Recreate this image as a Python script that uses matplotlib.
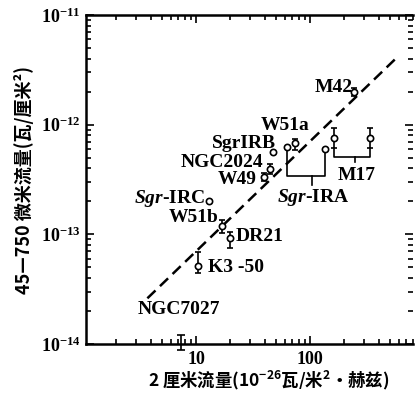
import matplotlib
matplotlib.use("Agg")
import matplotlib.pyplot as plt
from matplotlib.ticker import FixedLocator, FixedFormatter, LogLocator, NullFormatter

plt.rcParams['mathtext.fontset'] = 'custom'
plt.rcParams['mathtext.rm'] = 'Liberation Serif:bold'
plt.rcParams['mathtext.it'] = 'Liberation Serif:italic:bold'
plt.rcParams['mathtext.bf'] = 'Liberation Serif:bold'
plt.rcParams['mathtext.default'] = 'regular'

# ---- data ----
# sources with error bars
err_names = ["M42", "M17", "M17", "W51a", "NGC2024", "W49", "W51b", "DR21", "K3-50"]
err_x = [244, 162, 337, 74.5, 44.6, 39.7, 16.9, 19.7, 10.5]
err_y = [1.97e-12, 7.5e-13, 7.5e-13, 6.76e-13, 3.92e-13, 3.31e-13, 1.19e-13, 9.2e-14, 5.15e-14]
err_lo = [1.83e-12, 6.14e-13, 6.14e-13, 5.88e-13, 3.56e-13, 3.07e-13, 1.02e-13, 7.47e-14, 4.42e-14]
err_hi = [2.16e-12, 9.33e-13, 9.33e-13, 7.36e-13, 4.38e-13, 3.63e-13, 1.35e-13, 1.04e-13, 6.87e-14]

# sources without error bars
plain_names = ["Sgr-IRA", "Sgr-IRA", "SgrIRB", "Sgr-IRC"]
plain_x = [62.5, 135, 47.1, 13.1]
plain_y = [6.22e-13, 5.97e-13, 5.68e-13, 2.01e-13]

# NGC7027: error bar only
ngc7027_x = [7.4]
ngc7027_y = [1.04e-14]
ngc7027_lo = [0.88e-14]
ngc7027_hi = [1.21e-14]

# fitted dashed line
line_x = [3.74, 569]
line_y = [2.61e-14, 4.03e-12]

# bracket levels
m17_bracket_y = 5.08e-13
m17_tick = (250, 4.57e-13)
sgra_bracket_y = 3.40e-13
sgra_tick = (104, 2.82e-13)

xticks = [10, 100]
xticklabels = ["10", "100"]
yticks = [1e-14, 1e-13, 1e-12, 1e-11]
yticklabels = [r"10$^{-14}$", r"10$^{-13}$", r"10$^{-12}$", r"10$^{-11}$"]

fig = plt.figure(figsize=(4.15, 3.93), dpi=100)
ax = fig.add_axes([0.207, 0.1247, 0.788, 0.8371])
ax.set_xscale('log')
ax.set_yscale('log')
ax.set_xlim(1.08, 800)
ax.set_ylim(1e-14, 1e-11)

# dashed line
ax.plot(line_x, line_y, color='black', lw=1.8, ls=(0, (4.5, 2.5)))

# error bars
lo_e = [y - l for y, l in zip(err_y, err_lo)]
hi_e = [h - y for y, h in zip(err_y, err_hi)]
ax.errorbar(err_x, err_y, yerr=[lo_e, hi_e], fmt='o', ms=4.5, mfc='white',
            mec='black', mew=1.2, ecolor='black', elinewidth=1.2, capsize=2.5,
            capthick=1.2, zorder=3)
ax.plot(plain_x, plain_y, 'o', ms=4.5, mfc='white', mec='black', mew=1.2, zorder=3)
n_lo = [ngc7027_y[0] - ngc7027_lo[0]]
n_hi = [ngc7027_hi[0] - ngc7027_y[0]]
ax.errorbar(ngc7027_x, ngc7027_y, yerr=[n_lo, n_hi], fmt='none', ecolor='black',
            elinewidth=1.2, capsize=3, capthick=1.2, clip_on=False, zorder=3)

# brackets
kw = dict(color='black', lw=1.2)
ax.plot([err_x[1], err_x[1], err_x[2], err_x[2]],
        [err_lo[1], m17_bracket_y, m17_bracket_y, err_lo[2]], **kw)
ax.plot([m17_tick[0], m17_tick[0]], [m17_bracket_y, m17_tick[1]], **kw)
ax.plot([plain_x[0], plain_x[0], plain_x[1], plain_x[1]],
        [plain_y[0] * 0.93, sgra_bracket_y, sgra_bracket_y, plain_y[1] * 0.93], **kw)
ax.plot([sgra_tick[0], sgra_tick[0]], [sgra_bracket_y, sgra_tick[1]], **kw)

# labels
tf = dict(fontsize=14, family='Liberation Serif', fontweight='bold',
          va='center', color='black')
ax.text(235.6, 2.16e-12, "M42", ha='right', **tf)
ax.text(60.1, 9.93e-13, "W51a", ha='center', **tf)
ax.text(26.1, 6.8e-13, "SgrIRB", ha='center', **tf)
ax.text(39.2, 4.48e-13, "NGC2024", ha='right', **tf)
ax.text(34.0, 3.13e-13, "W49", ha='right', **tf)
ax.text(12.0, 2.1e-13, r"$\mathit{Sgr}$-IRC", ha='right', **tf)
ax.text(15.7, 1.41e-13, "W51b", ha='right', **tf)
ax.text(22.1, 9.46e-14, "DR21", ha='left', **tf)
ax.text(12.8, 4.94e-14, "K3 -50", ha='left', **tf)
ax.text(3.07, 2.05e-14, "NGC7027", ha='left', **tf)
ax.text(255, 3.47e-13, "M17", ha='center', **tf)
ax.text(106, 2.15e-13, r"$\mathit{Sgr}$-IRA", ha='center', **tf)

# axes styling
for s in ['left', 'top', 'bottom']:
    ax.spines[s].set_linewidth(1.8)
ax.spines['right'].set_visible(False)

ax.xaxis.set_major_locator(FixedLocator(xticks))
ax.xaxis.set_major_formatter(FixedFormatter(xticklabels))
ax.xaxis.set_minor_locator(LogLocator(base=10, subs=range(2, 10)))
ax.xaxis.set_minor_formatter(NullFormatter())
ax.yaxis.set_major_locator(FixedLocator(yticks))
ax.yaxis.set_major_formatter(FixedFormatter(yticklabels))
ax.yaxis.set_minor_locator(LogLocator(base=10, subs=range(2, 10)))
ax.yaxis.set_minor_formatter(NullFormatter())

ax.tick_params(which='both', direction='in', top=True, right=True, width=1.2)
ax.tick_params(which='major', length=6)
ax.tick_params(which='minor', length=3.5)
ax.tick_params(axis='x', which='major', pad=5)
ax.tick_params(axis='y', which='major', pad=4)
for lab in ax.get_xticklabels() + ax.get_yticklabels():
    lab.set_fontfamily('Liberation Serif')
    lab.set_fontsize(13)
    lab.set_fontweight('bold')

cjk = ['Noto Sans CJK SC', 'DejaVu Sans']
ax.set_ylabel("45—750 微米流量(瓦/厘米²)", family=cjk, fontsize=13,
              fontweight='bold', labelpad=5)
ax.set_xlabel(r"2 厘米流量(10$^{-26}$瓦/米$^{2}$·赫兹)", family=cjk,
              fontsize=12.5, fontweight='bold')
ax.xaxis.set_label_coords(0.56, -0.075)

fig.savefig("out.png", dpi=100)
